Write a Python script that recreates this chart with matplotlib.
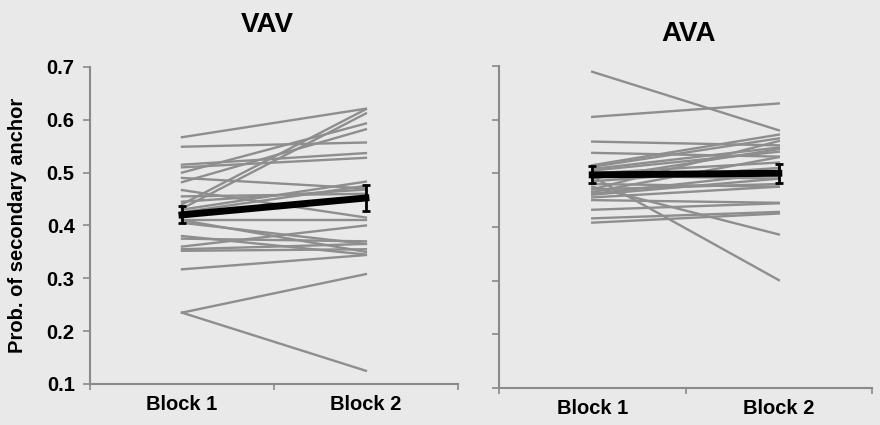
import numpy as np
import matplotlib.pyplot as plt

plt.rcParams['font.family'] = ['Liberation Sans', 'DejaVu Sans']
plt.rcParams['font.weight'] = 'bold'

blocks = ['Block 1', 'Block 2']

# VAV: individual subjects, block 1 -> block 2
vav_b1 = [0.567, 0.549, 0.515, 0.510, 0.500, 0.490, 0.482, 0.467, 0.455, 0.440,
          0.432, 0.430, 0.425, 0.410, 0.405, 0.410, 0.380, 0.375, 0.360, 0.355,
          0.352, 0.317, 0.235, 0.235, 0.445]
vav_b2 = [0.621, 0.557, 0.537, 0.528, 0.593, 0.470, 0.582, 0.415, 0.460, 0.620,
          0.612, 0.483, 0.475, 0.410, 0.365, 0.350, 0.345, 0.370, 0.400, 0.365,
          0.355, 0.344, 0.308, 0.125, 0.468]
vav_mean = [0.420, 0.452]
vav_err = [0.016, 0.024]

# AVA
ava_b1 = [0.689, 0.605, 0.559, 0.538, 0.515, 0.512, 0.508, 0.505, 0.500, 0.496,
          0.494, 0.490, 0.485, 0.480, 0.475, 0.470, 0.465, 0.460, 0.455, 0.450,
          0.432, 0.416, 0.408, 0.462, 0.470]
ava_b2 = [0.580, 0.630, 0.552, 0.531, 0.572, 0.565, 0.548, 0.540, 0.520, 0.490,
          0.301, 0.545, 0.510, 0.475, 0.386, 0.480, 0.530, 0.490, 0.475, 0.445,
          0.444, 0.428, 0.425, 0.500, 0.560]
ava_mean = [0.497, 0.500]
ava_err = [0.016, 0.018]

bg = '#e8e9e8'
axis_col = '#8a8a8a'

fig = plt.figure(figsize=(8.8, 4.25), dpi=100, facecolor=bg)
ax1 = fig.add_axes([0.1023, 0.0965, 0.418, 0.746])
ax2 = fig.add_axes([0.567, 0.087, 0.424, 0.758])

panels = [(ax1, 'VAV', vav_b1, vav_b2, vav_mean, vav_err),
          (ax2, 'AVA', ava_b1, ava_b2, ava_mean, ava_err)]

x = np.arange(len(blocks))
for ax, title, b1, b2, m, e in panels:
    ax.set_facecolor(bg)
    for a, b in zip(b1, b2):
        ax.plot(x, [a, b], color='#8e8e8e', lw=1.7, zorder=2)
    ax.errorbar(x, m, yerr=e, color='black', lw=5, capsize=3, capthick=2,
                elinewidth=2, zorder=3)
    ax.set_xlim(-0.5, 1.5)
    ax.set_ylim(0.1, 0.7)
    ax.set_yticks(np.arange(0.1, 0.71, 0.1))
    ax.set_xticks(x)
    ax.set_xticklabels(blocks, fontsize=14.5, fontweight='bold')
    ax.set_xticks([-0.5, 0.5, 1.5], minor=True)
    ax.tick_params(axis='x', which='major', length=0, pad=8)
    ax.tick_params(axis='x', which='minor', length=4, color=axis_col, width=1.2)
    ax.tick_params(axis='y', length=5, color=axis_col, width=1.2)
    for s in ['top', 'right']:
        ax.spines[s].set_visible(False)
    for s in ['left', 'bottom']:
        ax.spines[s].set_color(axis_col)
        ax.spines[s].set_linewidth(1.5)

ax1.set_yticklabels([f'{v:.1f}' for v in np.arange(0.1, 0.71, 0.1)],
                    fontsize=14.5, fontweight='bold')
ax1.tick_params(axis='y', pad=6)
ax2.set_yticklabels([])
ax1.set_ylabel('Prob. of secondary anchor', fontsize=14.5, fontweight='bold')
ax1.yaxis.set_label_coords(-0.17, 0.5)
ax1.set_title('VAV', fontsize=20, fontweight='bold', x=0.481, pad=25)
ax2.set_title('AVA', fontsize=20, fontweight='bold', x=0.509, pad=18)

fig.savefig('out.png', dpi=100, facecolor=bg)
